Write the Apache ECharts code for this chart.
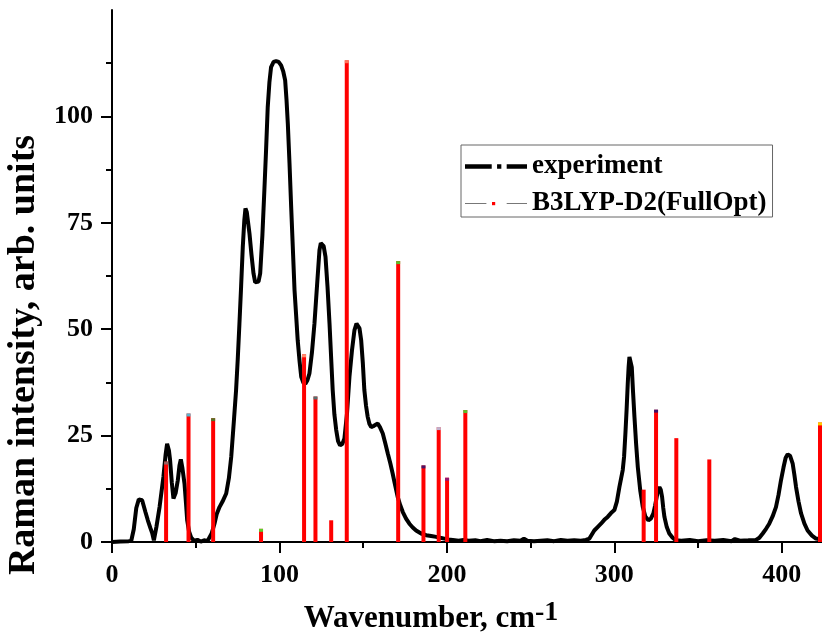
<!DOCTYPE html>
<html><head><meta charset="utf-8">
<script src="https://cdn.jsdelivr.net/npm/echarts@6/dist/echarts.min.js"></script>
<style>html,body{margin:0;padding:0;background:#fff}#c{width:822px;height:640px}</style>
</head><body><div id="c"></div>
<script>
// Experimental Raman spectrum (wavenumber, intensity)
const expWavenumber = [0,5,10,11.5,13,14.5,16,18,20,21.4,23,24,25,26.5,28.4,30.7,32,32.9,34,34.7,35.7,36.7,38,39.3,40.3,41.1,42,43.3,44.2,44.9,46,47.3,49,51,53,55,57,58,59.5,61.2,62.5,64.2,66,68.2,69.8,71.2,72.7,74.1,75.1,76.1,77.1,78.1,79,79.7,80.5,82.1,83.3,84.5,85.5,86.5,87.5,88.5,89.8,91,92,93,94,95,96.5,98,99.5,101,102.3,103.4,104.2,105,106,107,108,109,110,110.9,112,113,114.3,115.5,116.7,117.9,119.4,120.9,122.4,123.9,124.7,125.5,126.4,127.5,128.7,129.9,130.9,131.8,132.8,133.9,135,136.2,137.5,138.8,140.3,141.8,143.3,144.8,146,146.8,147.8,148.8,149.8,150.7,151.7,152.7,153.7,154.8,156,157.5,158.7,160,161.7,163.2,164.7,166.2,167.6,169.1,170.6,172.1,173.6,175.6,177.6,179.6,181.6,184.6,187.6,190.6,193.6,196,198.5,201,203.5,207,210,213,217,220,224,228,232,236,240,244,246,248,252,256,260,264,268,272,276,280,283,285.1,288,290,292,294,296,298,300,301.5,303,305,305.8,306.6,307.3,308,308.5,309,309.7,310.4,311.2,312,313,314,315.5,317,318.5,320.3,321.8,323.3,324.3,325.3,326.1,326.9,327.7,328.5,329.2,329.9,331.3,332.8,334.8,336.8,340,345,350,355,360,365,370,372,375,380,384.6,386.6,388.6,390.6,392.5,394.5,396.5,398,399.5,401,402.3,403.5,405,406.5,407.5,408.5,410,411.5,413.5,415.4,418,420.4,424];
const expIntensity = [0,0.1,0.2,0.3,3,8,10,9.8,7,5.1,3.2,2.1,0.4,3.5,8.2,15.3,20.5,23.1,21.5,19.2,14,10.2,11.5,14.5,18,19.4,17.5,13.7,9,5.1,2.5,1.0,0.3,0.5,0.1,0.4,0.2,0.6,2,4.3,6.5,8.2,9.5,11.4,15,20,28,35.7,43,51.3,60,69.3,75.5,78.4,77.5,72.5,67.5,63.1,61,60.7,61.2,63.1,72,82.7,92,102.2,108,111.6,112.8,113.0,112.8,112,110.5,108.5,104,98.3,89,78.7,69,59.2,53,47.4,42.5,38.8,37.4,37.2,38,39.6,44.5,51.3,60,68.6,70.2,70.5,69.5,67,60,51.3,43,35.7,30,26.3,23.7,22.7,23,24.3,30,38.8,45,49.8,51.3,51.7,50.2,47.4,42,35.7,32,29.4,27.8,27.0,27.2,27.6,27.8,27,25.5,23.2,20.8,18.5,16.1,13.3,10.6,8.7,7.1,5.5,4.3,3.4,2.7,2.0,1.6,1.4,1.2,1.0,0.8,0.6,0.5,0.3,0.5,0.3,0.4,0.2,0.5,0.2,0.3,0.2,0.4,0.3,0.8,0.3,0.2,0.3,0.4,0.2,0.5,0.3,0.4,0.3,0.5,0.8,2.7,3.5,4.3,5.2,5.9,6.8,7.5,9.5,12.9,16.9,20,25.5,31,37.2,41,43.5,43.2,41.1,35,29.4,23,17.6,12,8.2,6,5.1,5.5,6.7,8.5,10.6,12.3,12.9,12.3,10.6,8,5.9,3.5,2,1.0,0.4,0.3,0.5,0.2,0.4,0.3,0.5,0.2,0.7,0.3,0.4,0.5,1.0,2,3.1,4.3,6,8.2,11,14.5,17.5,19.8,20.6,20.2,18.4,15.8,12.9,9.5,6.7,4.3,2.7,1.5,0.8,0.6];

// Calculated B3LYP-D2(FullOpt) lines
const calcWavenumber = [32.3,45.7,60.4,89,114.7,121.5,130.9,140.2,170.9,186,195.1,200.1,211,317.5,324.9,337,356.7,422.8];
const calcIntensity  = [18.9,30.2,29.1,3.1,44.1,34.2,5.1,113.2,66.0,18.0,27.0,15.1,31.0,12.3,31.1,24.4,19.4,28.1];
const calcCapColor   = ['#7a7a7a','#33e0ff','#2e8b2e','#33ff33','#ffb08a','#2a8c8c',null,'#ff9070','#33ee33','#1a1a80','#b0dcff','#7a1a8a','#33ee33',null,'#101080',null,null,'#ffff00'];

const xTicks = [0,100,200,300,400];
const xMinorTicks = [50,150,250,350];
const yTicks = [0,25,50,75,100];
const yMinorTicks = [12.5,37.5,62.5,87.5,112.5];

const FONT = 'Liberation Serif';
const expData = expWavenumber.map((x,i)=>[x, expIntensity[i]]);
const calcData = calcWavenumber.map((x,i)=>[x, calcIntensity[i]]);
const capData = [];
calcWavenumber.forEach((x,i)=>{ if (calcCapColor[i]) capData.push({value:[x, calcIntensity[i]], itemStyle:{color:calcCapColor[i]}}); });

const chart = echarts.init(document.getElementById('c'), null, {renderer:'canvas'});
const axisLineStyle = {color:'#000', width:2};
chart.setOption({
  animation:false,
  backgroundColor:'#fff',
  grid:{left:112, right:0, top:10, bottom:98, containLabel:false, outerBoundsMode:'none'},
  legend:{
    orient:'vertical', left:461, top:145, padding:[8,6,0,4], itemGap:10,
    itemWidth:62, itemHeight:22, borderColor:'#666', borderWidth:1, backgroundColor:'#fff',
    selectedMode:false,
    textStyle:{fontFamily:FONT, fontWeight:'bold', fontSize:27, color:'#000'},
    data:[
      {name:'experiment', icon:'path://M0,0H25V4H0Z M30,0H34V4H30Z M39,0H58V4H39Z', itemStyle:{color:'#000'}},
      {name:'B3LYP-D2(FullOpt)', icon:'path://M0,1.5H20V2.5H0Z M39,1.5H58V2.5H39Z M0,0H0.01V4H0Z M57.99,0H58V4H57.99Z', itemStyle:{color:'#777'}}
    ]
  },
  graphic:[{type:'rect', z:100, shape:{x:492, y:202, width:3.2, height:3.2}, style:{fill:'#ff0000'}}],
  xAxis:[{
    type:'value', min:0, max:424, interval:100, position:'bottom',
    axisLine:{show:true, onZero:false, lineStyle:axisLineStyle},
    axisTick:{show:true, customValues:xTicks, length:11, lineStyle:axisLineStyle},
    axisLabel:{customValues:xTicks, margin:20, fontFamily:FONT, fontWeight:'bold', fontSize:26, color:'#000'},
    splitLine:{show:false},
    name:'Wavenumber, cm{sup|-1}', nameLocation:'middle', nameGap:57,
    nameTextStyle:{fontFamily:FONT, fontWeight:'bold', fontSize:31, color:'#000', padding:[0,72,0,0],
      rich:{sup:{fontFamily:FONT, fontWeight:'bold', fontSize:28, color:'#000', padding:[0,0,12,0]}}}
  },{
    type:'value', min:0, max:424, position:'bottom',
    axisLine:{show:false}, axisLabel:{show:false}, splitLine:{show:false},
    axisTick:{show:true, customValues:xMinorTicks, length:6, lineStyle:axisLineStyle}
  }],
  yAxis:[{
    type:'value', min:0, max:125, interval:25, position:'left',
    axisLine:{show:true, onZero:false, lineStyle:axisLineStyle},
    axisTick:{show:true, customValues:yTicks, length:11, lineStyle:axisLineStyle},
    axisLabel:{customValues:yTicks, margin:19, fontFamily:FONT, fontWeight:'bold', fontSize:26, color:'#000'},
    splitLine:{show:false},
    name:'Raman intensity, arb. units', nameLocation:'middle', nameGap:68,
    nameTextStyle:{fontFamily:FONT, fontWeight:'bold', fontSize:38, color:'#000', padding:[0,158,0,0]}
  },{
    type:'value', min:0, max:125, position:'left',
    axisLine:{show:false}, axisLabel:{show:false}, splitLine:{show:false},
    axisTick:{show:true, customValues:yMinorTicks, length:6, lineStyle:axisLineStyle}
  }],
  series:[
    {name:'experiment', type:'line', data:expData, xAxisIndex:0, yAxisIndex:0,
     showSymbol:false, symbol:'none', lineStyle:{color:'#000', width:4}, itemStyle:{color:'#000'}, z:2},
    {name:'B3LYP-D2(FullOpt)', type:'bar', data:calcData, xAxisIndex:0, yAxisIndex:0,
     barWidth:4, itemStyle:{color:'#ff0000'}, z:3},
    {name:'caps', type:'scatter', data:capData, xAxisIndex:0, yAxisIndex:0,
     symbol:'rect', symbolSize:[4,3], symbolOffset:[0,1.5], z:4}
  ]
});
</script></body></html>
